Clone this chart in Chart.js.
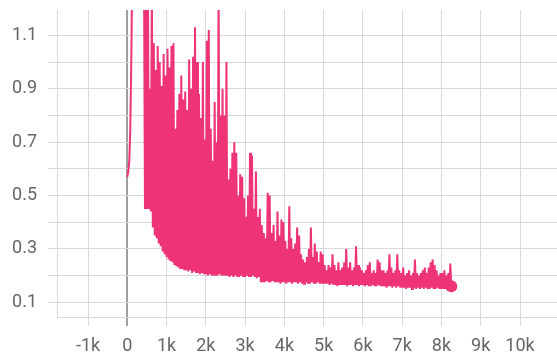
<!DOCTYPE html>
<html>
<head>
<meta charset="utf-8">
<script src="https://cdn.jsdelivr.net/npm/chart.js@4.4.1/dist/chart.umd.min.js"></script>
<style>
    html, body { margin: 0; padding: 0; background: #fff; }
    canvas { display: block; }
</style>
</head>
<body>
<canvas id="lossChart" width="557" height="355"></canvas>
<script>
// training steps are logged every 25 steps, starting at step 0
const STEP_EVERY = 25

const loss = [
    0.57, 0.59, 0.63, 0.74, 0.98, 1.32, 1.48, 1.55, 1.52, 1.47, 1.50, 1.44, 1.46, 1.41, 1.43, 1.38, 1.40, 1.36, 0.45, 1.30,
    0.45, 1.30, 0.45, 0.90, 0.44, 1.30, 0.38, 1.07, 0.35, 0.97, 0.34, 1.06, 0.32, 1.00, 0.31, 0.91, 0.29, 1.03, 0.28, 0.95,
    0.27, 1.05, 0.26, 0.98, 0.255, 1.06, 0.25, 1.07, 0.24, 0.75, 0.235, 0.82, 0.23, 0.88, 0.225, 0.95, 0.225, 0.86, 0.22, 0.89,
    0.22, 0.82, 0.215, 1.01, 0.22, 0.90, 0.21, 1.02, 0.215, 1.13, 0.21, 1.00, 0.21, 0.88, 0.205, 0.79, 0.21, 1.00, 0.205, 0.71,
    0.205, 1.08, 0.20, 1.12, 0.205, 0.75, 0.20, 0.63, 0.20, 0.85, 0.20, 0.70, 0.20, 1.30, 0.205, 0.80, 0.20, 0.90, 0.20, 0.80,
    0.20, 1.00, 0.20, 0.56, 0.195, 0.60, 0.20, 0.66, 0.195, 0.70, 0.20, 0.66, 0.195, 0.50, 0.195, 0.58, 0.20, 0.57, 0.195, 0.49,
    0.195, 0.42, 0.20, 0.50, 0.195, 0.66, 0.195, 0.65, 0.20, 0.45, 0.195, 0.59, 0.19, 0.42, 0.195, 0.45, 0.175, 0.39, 0.175, 0.36,
    0.175, 0.34, 0.18, 0.51, 0.175, 0.50, 0.175, 0.36, 0.18, 0.39, 0.175, 0.33, 0.175, 0.44, 0.175, 0.35, 0.17, 0.41, 0.175, 0.40,
    0.175, 0.33, 0.17, 0.30, 0.175, 0.46, 0.175, 0.34, 0.17, 0.30, 0.175, 0.32, 0.175, 0.38, 0.17, 0.35, 0.175, 0.28, 0.17, 0.26,
    0.17, 0.25, 0.175, 0.27, 0.17, 0.30, 0.17, 0.38, 0.175, 0.27, 0.17, 0.32, 0.17, 0.29, 0.175, 0.25, 0.17, 0.29, 0.17, 0.28,
    0.17, 0.24, 0.17, 0.22, 0.17, 0.24, 0.165, 0.23, 0.17, 0.28, 0.165, 0.24, 0.165, 0.22, 0.16, 0.25, 0.165, 0.22, 0.165, 0.23,
    0.165, 0.25, 0.165, 0.30, 0.16, 0.23, 0.165, 0.25, 0.165, 0.22, 0.16, 0.23, 0.165, 0.31, 0.165, 0.24, 0.16, 0.23, 0.165, 0.22,
    0.165, 0.21, 0.16, 0.22, 0.165, 0.24, 0.16, 0.25, 0.16, 0.21, 0.165, 0.22, 0.16, 0.21, 0.16, 0.26, 0.165, 0.25, 0.16, 0.22,
    0.16, 0.22, 0.16, 0.21, 0.155, 0.22, 0.16, 0.28, 0.16, 0.23, 0.155, 0.21, 0.16, 0.22, 0.155, 0.28, 0.16, 0.22, 0.155, 0.21,
    0.155, 0.23, 0.155, 0.20, 0.15, 0.21, 0.155, 0.22, 0.155, 0.20, 0.15, 0.21, 0.155, 0.26, 0.15, 0.21, 0.155, 0.20, 0.15, 0.21,
    0.155, 0.22, 0.15, 0.23, 0.155, 0.21, 0.15, 0.23, 0.15, 0.25, 0.155, 0.26, 0.15, 0.24, 0.15, 0.22, 0.155, 0.20, 0.15, 0.21,
    0.15, 0.21, 0.15, 0.22, 0.15, 0.20, 0.155, 0.21, 0.15, 0.245, 0.16,
]

const steps = loss.map((v, i) => i * STEP_EVERY)

const xTicks = [-1000, 0, 1000, 2000, 3000, 4000, 5000, 6000, 7000, 8000, 9000, 10000]
const yTicks = [0.1, 0.2, 0.3, 0.4, 0.5, 0.6, 0.7, 0.8, 0.9, 1.0, 1.1]

const GRID = '#d9d9d9'
const ZERO_LINE = '#9e9e9e'
const LABEL = '#666666'
const SERIES = '#ee3377'

/**
 * @name formatStep
 * @description 1000 -> 1k, 0 -> 0
 */
function formatStep(value) {
    if (value === 0) return '0'
    return Math.round(value / 1000) + 'k'
}

/**
 * @name formatLoss
 * @description only every second grid line gets a label
 */
function formatLoss(value) {
    const tenths = Math.round(value * 10)
    return tenths % 2 === 1 ? (tenths / 10).toFixed(1) : ''
}

/**
 * @name noEdgePadding
 * @description stop chart.js reserving room for half a tick label at the ends
 */
function noEdgePadding(scale) {
    scale.paddingTop = 0
    scale.paddingBottom = 0
    scale.paddingLeft = 0
    scale.paddingRight = 0
}

function renderChart() {
    Chart.defaults.font.family = 'Roboto'
    Chart.defaults.font.size = 18
    Chart.defaults.color = LABEL

    const last = loss.length - 1
    const ctx = document.getElementById('lossChart').getContext('2d')

    new Chart(ctx, {
        type: 'line',
        data: {
            datasets: [
                {
                    label: 'loss',
                    data: steps.map((s, i) => ({ x: s, y: loss[i] })),
                    borderColor: SERIES,
                    backgroundColor: SERIES,
                    borderWidth: 2,
                    tension: 0,
                    pointRadius: (c) => (c.dataIndex === last ? 6 : 0),
                    pointHoverRadius: 0,
                    pointBorderWidth: 0,
                },
            ],
        },
        options: {
            responsive: false,
            animation: false,
            events: [],
            layout: {
                autoPadding: false,
                padding: { top: 10, right: 0, bottom: 0, left: 0 },
            },
            plugins: {
                legend: { display: false },
                tooltip: { enabled: false },
            },
            scales: {
                x: {
                    type: 'linear',
                    bounds: 'data',
                    min: -1790,
                    max: 10942,
                    afterBuildTicks: (scale) => { scale.ticks = xTicks.map((v) => ({ value: v })) },
                    afterFit: (scale) => {
                        scale.height = 38
                        noEdgePadding(scale)
                    },
                    border: { display: true, color: GRID, width: 1 },
                    grid: {
                        color: (c) => (c.tick && c.tick.value === 0 ? ZERO_LINE : GRID),
                        lineWidth: (c) => (c.tick && c.tick.value === 0 ? 2 : 1),
                        tickLength: 9,
                    },
                    ticks: {
                        autoSkip: false,
                        maxRotation: 0,
                        padding: 10,
                        callback: formatStep,
                    },
                },
                y: {
                    type: 'linear',
                    bounds: 'data',
                    min: 0.045,
                    max: 1.195,
                    afterBuildTicks: (scale) => { scale.ticks = yTicks.map((v) => ({ value: v })) },
                    afterFit: (scale) => {
                        scale.width = 57
                        noEdgePadding(scale)
                    },
                    border: { display: true, color: GRID, width: 1 },
                    grid: {
                        color: GRID,
                        lineWidth: 1,
                        tickLength: 9,
                    },
                    ticks: {
                        autoSkip: false,
                        padding: 11,
                        callback: formatLoss,
                    },
                },
            },
        },
    })
}

renderChart()
</script>
</body>
</html>
